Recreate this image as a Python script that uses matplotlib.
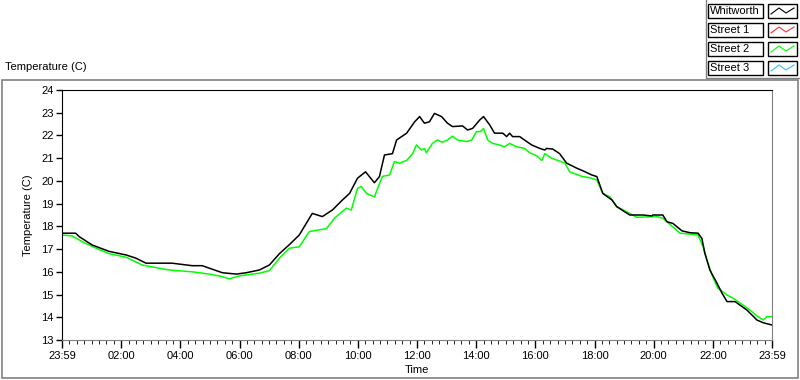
import matplotlib
matplotlib.use("Agg")
import matplotlib.pyplot as plt
from matplotlib.patches import Rectangle
from matplotlib.lines import Line2D
import matplotlib.ticker as ticker

plt.rcParams["font.family"] = ["Liberation Sans", "DejaVu Sans"]

# hours after 23:59 of the previous day
whitworth_t = [0, 0.46, 0.58, 1.02, 1.59, 2.17, 2.5, 2.84, 3.72, 4.4, 4.74, 4.98, 5.42, 5.89, 6.23,
               6.67, 7.01, 7.35, 7.69, 8.02, 8.46, 8.8, 9.14, 9.48, 9.72, 9.99, 10.26, 10.56, 10.73,
               10.9, 11.17, 11.31, 11.65, 11.92, 12.09, 12.25, 12.42, 12.59, 12.83, 13.03, 13.2, 13.54,
               13.71, 13.88, 14.12, 14.25, 14.46, 14.62, 14.9, 15.03, 15.13, 15.23, 15.47, 15.71, 15.88,
               16.15, 16.32, 16.38, 16.59, 16.82, 17.06, 17.4, 17.6, 17.91, 18.08, 18.28, 18.59, 18.75,
               19.19, 19.63, 19.94, 19.97, 20.31, 20.45, 20.65, 20.96, 21.23, 21.5, 21.63, 21.73, 21.9,
               22.14, 22.31, 22.48, 22.75, 23.15, 23.49, 23.7, 24]
whitworth = [17.7, 17.7, 17.55, 17.18, 16.9, 16.74, 16.6, 16.38, 16.38, 16.27, 16.27, 16.16, 15.96, 15.9,
             15.96, 16.08, 16.3, 16.8, 17.2, 17.62, 18.57, 18.43, 18.72, 19.16, 19.45, 20.12, 20.4, 19.92,
             20.19, 21.14, 21.2, 21.8, 22.1, 22.6, 22.83, 22.54, 22.6, 22.97, 22.83, 22.54, 22.39, 22.42,
             22.24, 22.31, 22.68, 22.83, 22.46, 22.1, 22.1, 21.95, 22.1, 21.95, 21.95, 21.73, 21.58, 21.43,
             21.36, 21.43, 21.4, 21.2, 20.78, 20.56, 20.45, 20.26, 20.19, 19.45, 19.16, 18.87, 18.5, 18.5,
             18.46, 18.5, 18.5, 18.2, 18.13, 17.8, 17.72, 17.7, 17.47, 16.82, 16.08, 15.5, 15.06, 14.69,
             14.69, 14.32, 13.88, 13.76, 13.66]

street2_t = [0, 0.34, 0.68, 1.15, 1.59, 2.17, 2.71, 3.28, 3.62, 4.4, 4.98, 5.42, 5.65, 5.99, 6.67, 7.01,
             7.35, 7.69, 8.02, 8.36, 8.94, 9.21, 9.61, 9.78, 9.99, 10.12, 10.29, 10.56, 10.83, 11.07, 11.24,
             11.41, 11.65, 11.85, 11.98, 12.15, 12.25, 12.32, 12.52, 12.69, 12.86, 13.03, 13.2, 13.37, 13.68,
             13.85, 14.01, 14.15, 14.25, 14.39, 14.56, 14.79, 14.96, 15.13, 15.37, 15.64, 15.81, 16.05,
             16.22, 16.32, 16.55, 16.76, 17.0, 17.16, 17.57, 17.84, 18.08, 18.28, 18.52, 18.75, 19.19,
             19.43, 20.11, 20.31, 20.89, 21.23, 21.5, 21.67, 21.8, 21.97, 22.17, 22.48, 22.68, 23.02,
             23.32, 23.49, 23.7, 23.83, 24]
street2 = [17.62, 17.58, 17.33, 17.04, 16.8, 16.64, 16.3, 16.16, 16.08, 16.0, 15.9, 15.79, 15.69, 15.82,
           15.94, 16.05, 16.6, 17.04, 17.1, 17.77, 17.9, 18.36, 18.8, 18.72, 19.68, 19.75, 19.45, 19.3,
           20.2, 20.26, 20.85, 20.78, 20.9, 21.2, 21.58, 21.36, 21.43, 21.24, 21.65, 21.8, 21.7, 21.8,
           21.97, 21.8, 21.73, 21.8, 22.17, 22.17, 22.31, 21.8, 21.65, 21.58, 21.5, 21.65, 21.5, 21.43,
           21.24, 21.1, 20.9, 21.2, 21.0, 20.9, 20.78, 20.4, 20.2, 20.14, 20.04, 19.45, 19.3, 18.87,
           18.57, 18.4, 18.43, 18.36, 17.7, 17.66, 17.62, 17.1, 16.52, 15.86, 15.28, 14.98, 14.84,
           14.54, 14.25, 14.06, 13.88, 14.03, 14.03]

# no visible data for these two
street1_t, street1 = [], []
street3_t, street3 = [], []

names = ["Whitworth", "Street 1", "Street 2", "Street 3"]
colors = ["black", "#ff3030", "#00ff00", "#30c0ff"]
xtick_pos = [0, 2, 4, 6, 8, 10, 12, 14, 16, 18, 20, 22, 24]
xtick_labels = ["23:59", "02:00", "04:00", "06:00", "08:00", "10:00", "12:00",
                "14:00", "16:00", "18:00", "20:00", "22:00", "23:59"]

W, H = 800, 380
fig = plt.figure(figsize=(8, 3.8), dpi=100)
fs = 8


def fx(px):
    return px / W


def fy(py):
    return 1 - py / H


# outer frame
fig.patches.append(Rectangle((fx(2), fy(378)), fx(796), 298 / H, transform=fig.transFigure,
                             fill=False, edgecolor="#808080", linewidth=1.2))
fig.text(fx(5), fy(72), "Temperature (C)", fontsize=fs, ha="left", va="bottom")

ax = fig.add_axes([fx(62), fy(340), fx(710), 250 / H])
series = [(whitworth_t, whitworth), (street1_t, street1), (street2_t, street2), (street3_t, street3)]
for (t, v), c in zip(series[::-1], colors[::-1]):
    ax.plot(t, v, color=c, linewidth=1.1)

ax.set_xlim(0, 24)
ax.set_ylim(13, 24)
ax.set_yticks(range(13, 25))
ax.set_xticks(xtick_pos, labels=xtick_labels)
ax.xaxis.set_minor_locator(ticker.MultipleLocator(0.25))
ax.tick_params(axis="both", labelsize=fs, direction="out", width=1, pad=2)
ax.tick_params(axis="y", length=4)
ax.tick_params(axis="x", which="major", length=6)
ax.tick_params(axis="x", which="minor", length=3)
ax.set_ylabel("Temperature (C)", fontsize=fs, labelpad=6)
ax.set_xlabel("Time", fontsize=fs, labelpad=3)
ax.spines["left"].set_color("black")
ax.spines["top"].set_color("black")
ax.spines["right"].set_color("#808080")
ax.spines["bottom"].set_color("#808080")

# LabVIEW-style legend, one box per entry
fig.lines.append(Line2D([fx(706), fx(706), fx(800)], [fy(0), fy(78), fy(78)],
                        transform=fig.transFigure, color="#808080", linewidth=1))
rows = [4, 23, 42, 61]
for name, c, top in zip(names, colors, rows):
    fig.patches.append(Rectangle((fx(708), fy(top + 14)), fx(55), 14 / H, transform=fig.transFigure,
                                 fill=False, edgecolor="black", linewidth=1))
    fig.text(fx(710), fy(top + 7), name, fontsize=fs, ha="left", va="center")
    fig.patches.append(Rectangle((fx(768), fy(top + 14)), fx(29), 14 / H, transform=fig.transFigure,
                                 fill=False, edgecolor="black", linewidth=1))
    zx = [771, 779, 786, 794]
    zy = [top + 10, top + 4, top + 9, top + 4]
    fig.lines.append(Line2D([fx(p) for p in zx], [fy(p) for p in zy], transform=fig.transFigure,
                            color=c, linewidth=0.8))

fig.savefig("out.png", dpi=100)
